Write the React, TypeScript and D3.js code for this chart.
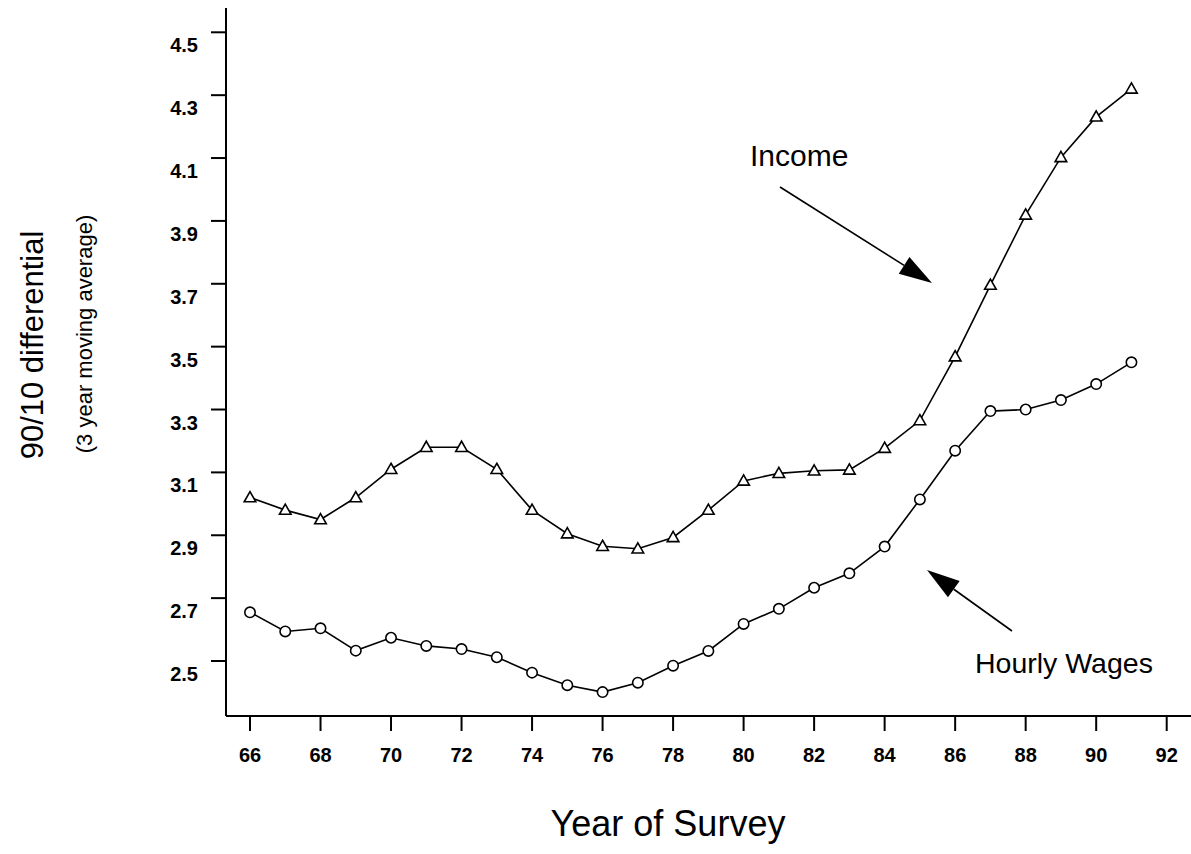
import React from "react";
import * as d3 from "d3";

const years = [66, 67, 68, 69, 70, 71, 72, 73, 74, 75, 76, 77, 78, 79, 80, 81, 82, 83, 84, 85, 86, 87, 88, 89, 90, 91];
const incomeValues = [3.02, 2.98, 2.95, 3.02, 3.11, 3.18, 3.18, 3.11, 2.98, 2.905, 2.865, 2.857, 2.893, 2.98, 3.073, 3.097, 3.105, 3.108, 3.177, 3.265, 3.468, 3.696, 3.919, 4.102, 4.231, 4.32];
const wageValues = [2.655, 2.594, 2.604, 2.533, 2.574, 2.548, 2.538, 2.512, 2.463, 2.423, 2.401, 2.431, 2.485, 2.532, 2.618, 2.666, 2.733, 2.779, 2.864, 3.014, 3.169, 3.295, 3.3, 3.33, 3.381, 3.45];
const yTicks = [2.5, 2.7, 2.9, 3.1, 3.3, 3.5, 3.7, 3.9, 4.1, 4.3, 4.5];
const xTicks = [66, 68, 70, 72, 74, 76, 78, 80, 82, 84, 86, 88, 90, 92];

const FONT = "'Liberation Sans', Arial, Helvetica, sans-serif";

export default function App() {
  const x = d3.scaleLinear().domain([66, 92]).range([250, 1166.7]);
  const y = d3.scaleLinear().domain([2.5, 4.5]).range([661, 32.3]);
  const axisX0 = 226;
  const axisY0 = 716;

  const line = d3
    .line<number>()
    .x((_, i) => x(years[i]))
    .y((d) => y(d));

  const tri = (cx: number, cy: number) => {
    const s = 5.8;
    return `M${cx},${cy - 6}L${cx + s},${cy + 4.2}L${cx - s},${cy + 4.2}Z`;
  };

  const arrow = (x1: number, y1: number, x2: number, y2: number) => {
    const ang = Math.atan2(y2 - y1, x2 - x1);
    const len = 33;
    const hw = 10;
    const bx = x2 - len * Math.cos(ang);
    const by = y2 - len * Math.sin(ang);
    const px = -Math.sin(ang) * hw;
    const py = Math.cos(ang) * hw;
    return (
      <g>
        <line x1={x1} y1={y1} x2={bx} y2={by} stroke="#000" strokeWidth={1.6} />
        <path d={`M${x2},${y2}L${bx + px},${by + py}L${bx - px},${by - py}Z`} fill="#000" />
      </g>
    );
  };

  return (
    <svg
      width={1191}
      height={854}
      style={{ position: "absolute", left: 0, top: 0, background: "#fff" }}
      fontFamily={FONT}
    >
      <rect x={0} y={0} width={1191} height={854} fill="#fff" />
      {/* axes */}
      <line x1={axisX0} y1={8} x2={axisX0} y2={axisY0} stroke="#000" strokeWidth={2} />
      <line x1={axisX0} y1={axisY0} x2={1191} y2={axisY0} stroke="#000" strokeWidth={2} />
      {yTicks.map((t) => (
        <g key={"y" + t}>
          <line x1={211} x2={axisX0} y1={y(t)} y2={y(t)} stroke="#000" strokeWidth={2} />
          <text x={198} y={y(t) + 20} textAnchor="end" fontSize={20} fontWeight="bold">
            {t.toFixed(1)}
          </text>
        </g>
      ))}
      {xTicks.map((t) => (
        <g key={"x" + t}>
          <line x1={x(t)} x2={x(t)} y1={axisY0} y2={731} stroke="#000" strokeWidth={2} />
          <text x={x(t)} y={762} textAnchor="middle" fontSize={20} fontWeight="bold">
            {t}
          </text>
        </g>
      ))}
      {/* axis titles */}
      <text x={668} y={836} textAnchor="middle" fontSize={36}>
        Year of Survey
      </text>
      <text transform="translate(43,345) rotate(-90)" textAnchor="middle" fontSize={31}>
        90/10 differential
      </text>
      <text transform="translate(92,334) rotate(-90)" textAnchor="middle" fontSize={22}>
        (3 year moving average)
      </text>

      {/* series */}
      <path d={line(incomeValues) || ""} fill="none" stroke="#000" strokeWidth={1.6} />
      <path d={line(wageValues) || ""} fill="none" stroke="#000" strokeWidth={1.6} />
      {incomeValues.map((v, i) => (
        <path key={"i" + i} d={tri(x(years[i]), y(v))} fill="#fff" stroke="#000" strokeWidth={1.6} />
      ))}
      {wageValues.map((v, i) => (
        <circle key={"w" + i} cx={x(years[i])} cy={y(v)} r={5.2} fill="#fff" stroke="#000" strokeWidth={1.6} />
      ))}

      {/* annotations */}
      <text x={750} y={166} fontSize={30}>
        Income
      </text>
      {arrow(780, 187, 932, 283)}
      <text x={975} y={673} fontSize={28.5}>
        Hourly Wages
      </text>
      {arrow(1012, 631, 927, 570)}
    </svg>
  );
}
